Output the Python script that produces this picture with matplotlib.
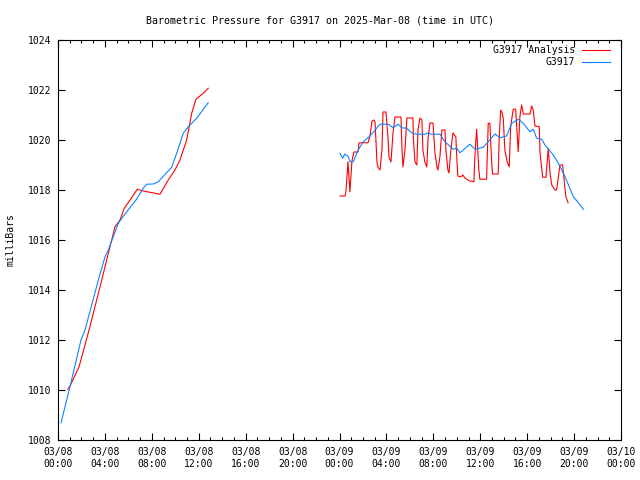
import matplotlib
matplotlib.use("Agg")
import matplotlib.pyplot as plt
from matplotlib.lines import Line2D
from matplotlib.ticker import MultipleLocator, FuncFormatter

# hours since 2025-03-08 00:00 UTC, pressure in millibars
obs_morning_h = [0.26, 1.02, 1.96, 2.30, 3.44, 4.01, 4.29, 4.71, 5.14, 5.65, 6.65, 7.27,
                 7.56, 8.12, 8.55, 9.69, 10.12, 10.68, 11.11, 11.82, 12.81]
obs_morning_mb = [1008.69, 1010.13, 1012.0, 1012.4, 1014.4, 1015.33, 1015.6, 1016.13,
                  1016.67, 1017.0, 1017.6, 1018.07, 1018.23, 1018.24, 1018.33, 1018.91,
                  1019.47, 1020.27, 1020.53, 1020.87, 1021.49]

ana_morning_h = [0.83, 1.02, 1.79, 2.58, 3.73, 4.43, 4.86, 5.29, 5.65, 6.14, 6.76, 7.27,
                 8.70, 9.40, 9.97, 10.40, 10.97, 11.40, 11.76, 12.39, 12.81]
ana_morning_mb = [1010.03, 1010.16, 1010.92, 1012.28, 1014.4, 1015.73, 1016.53, 1016.8,
                  1017.27, 1017.6, 1018.03, 1017.96, 1017.83, 1018.4, 1018.8, 1019.2,
                  1020.0, 1021.07, 1021.63, 1021.87, 1022.07]

obs_day2_h = [24.04, 24.27, 24.47, 24.75, 24.9, 25.18, 25.47, 25.75, 26.03, 26.6, 27.17,
              27.45, 28.16, 28.58, 29.01, 29.3, 29.72, 30.15, 30.58, 31.29, 31.57, 31.86,
              32.57, 32.99, 33.7, 33.99, 34.27, 35.12, 35.55, 36.26, 37.25, 37.68, 38.25,
              38.68, 39.24, 39.67, 40.24, 40.52, 40.81, 41.24, 41.52, 42.23, 42.66, 43.23,
              43.94, 44.37, 44.79]
obs_day2_mb = [1019.47, 1019.27, 1019.44, 1019.33, 1019.13, 1019.13, 1019.47, 1019.73,
               1019.93, 1020.16, 1020.47, 1020.63, 1020.63, 1020.49, 1020.63, 1020.49,
               1020.47, 1020.29, 1020.23, 1020.23, 1020.29, 1020.23, 1020.23, 1019.93,
               1019.63, 1019.67, 1019.49, 1019.83, 1019.63, 1019.71, 1020.24, 1020.09,
               1020.16, 1020.67, 1020.83, 1020.67, 1020.33, 1020.43, 1020.07, 1020.03,
               1019.8, 1019.4, 1019.07, 1018.53, 1017.73, 1017.49, 1017.23]

ana_day2_h = [24.04, 24.47, 24.55, 24.64, 24.72, 24.89, 25.06, 25.23, 25.58, 25.66, 25.83,
              26.43, 26.6, 26.77, 26.94, 27.03, 27.2, 27.28, 27.45, 27.62, 27.71, 27.96,
              28.13, 28.22, 28.39, 28.56, 28.73, 29.24, 29.33, 29.41, 29.58, 29.75, 30.26,
              30.31, 30.43, 30.6, 30.69, 30.86, 31.03, 31.11, 31.28, 31.45, 31.54, 31.71,
              31.97, 32.14, 32.31, 32.39, 32.56, 32.73, 32.99, 33.07, 33.24, 33.33, 33.5,
              33.67, 33.92, 34.01, 34.09, 34.35, 34.52, 34.69, 34.95, 35.12, 35.46, 35.54,
              35.69, 35.88, 35.97, 36.54, 36.68, 36.82, 36.97, 37.05, 37.53, 37.62, 37.74,
              37.87, 37.96, 38.1, 38.3, 38.47, 38.59, 38.81, 39.02, 39.1, 39.24, 39.38,
              39.53, 39.67, 40.24, 40.38, 40.52, 40.66, 41.03, 41.09, 41.32, 41.6, 41.8,
              41.94, 42.09, 42.37, 42.51, 42.65, 42.79, 43.02, 43.15, 43.3, 43.49]
ana_day2_mb = [1017.76, 1017.76, 1017.96, 1018.53, 1019.13, 1017.93, 1019.16, 1019.52,
               1019.52, 1019.88, 1019.89, 1019.89, 1020.16, 1020.76, 1020.8, 1020.72,
               1019.08, 1018.92, 1018.8, 1019.6, 1021.12, 1021.12, 1020.12, 1019.32,
               1019.12, 1020.28, 1020.92, 1020.92, 1019.6, 1018.92, 1019.6, 1020.88,
               1020.88, 1020.0, 1019.12, 1019.0, 1020.4, 1020.88, 1020.8, 1019.6, 1019.12,
               1018.92, 1020.0, 1020.68, 1020.68, 1019.48, 1018.92, 1018.8, 1019.32,
               1020.4, 1020.4, 1019.6, 1018.8, 1018.68, 1019.6, 1020.28, 1020.12, 1019.2,
               1018.56, 1018.52, 1018.6, 1018.48, 1018.4, 1018.36, 1018.33, 1019.33,
               1020.43, 1018.8, 1018.43, 1018.43, 1020.67, 1020.67, 1019.13, 1018.64,
               1018.64, 1020.13, 1021.2, 1021.08, 1020.87, 1019.6, 1019.12, 1018.93,
               1020.53, 1021.23, 1021.23, 1020.6, 1019.53, 1020.93, 1021.4, 1021.04,
               1021.04, 1021.36, 1021.2, 1020.56, 1020.53, 1019.53, 1018.51, 1018.51,
               1019.67, 1018.73, 1018.2, 1018.0, 1018.0, 1018.48, 1019.0, 1019.0, 1018.4,
               1017.73, 1017.49]

RED = "#ff0000"
BLUE = "#0a84ff"
FONT = "DejaVu Sans Mono"


def tick_label(h, _pos):
    h = int(round(h))
    return f"03/{8 + h // 24:02d}\n{h % 24:02d}:00"


fig = plt.figure(figsize=(6.4, 4.8), dpi=100)
ax = fig.add_axes([58 / 640, 40 / 480, 563 / 640, 400 / 480])

line_kw = dict(lw=0.8)
ax.plot(ana_morning_h, ana_morning_mb, color=RED, **line_kw)
ax.plot(ana_day2_h, ana_day2_mb, color=RED, **line_kw)
ax.plot(obs_morning_h, obs_morning_mb, color=BLUE, **line_kw)
ax.plot(obs_day2_h, obs_day2_mb, color=BLUE, **line_kw)

ax.set_xlim(0, 48)
ax.set_ylim(1008, 1024)
ax.xaxis.set_major_locator(MultipleLocator(4))
ax.xaxis.set_minor_locator(MultipleLocator(1))
ax.xaxis.set_major_formatter(FuncFormatter(tick_label))
ax.yaxis.set_major_locator(MultipleLocator(2))
ax.tick_params(which="both", direction="in", top=True, right=True,
               labelsize=7, width=0.8, pad=5)
ax.tick_params(which="major", length=5)
ax.tick_params(which="minor", length=2.5)
for lab in ax.get_xticklabels() + ax.get_yticklabels():
    lab.set_family(FONT)
for s in ax.spines.values():
    s.set_linewidth(0.8)

ax.set_ylabel("milliBars", family=FONT, fontsize=7, labelpad=9)
fig.text(0.5, 0.958, "Barometric Pressure for G3917 on 2025-Mar-08 (time in UTC)",
         ha="center", va="center", family=FONT, fontsize=7.2)

# gnuplot-style key: right-aligned text, sample line after it
for y, label, color in [(0.975, "G3917 Analysis", RED), (0.945, "G3917", BLUE)]:
    ax.text(0.918, y, label, transform=ax.transAxes, ha="right", va="center",
            family=FONT, fontsize=7)
    ax.add_line(Line2D([0.931, 0.980], [y, y], transform=ax.transAxes,
                       color=color, **line_kw))

fig.savefig("out.png", dpi=100)
